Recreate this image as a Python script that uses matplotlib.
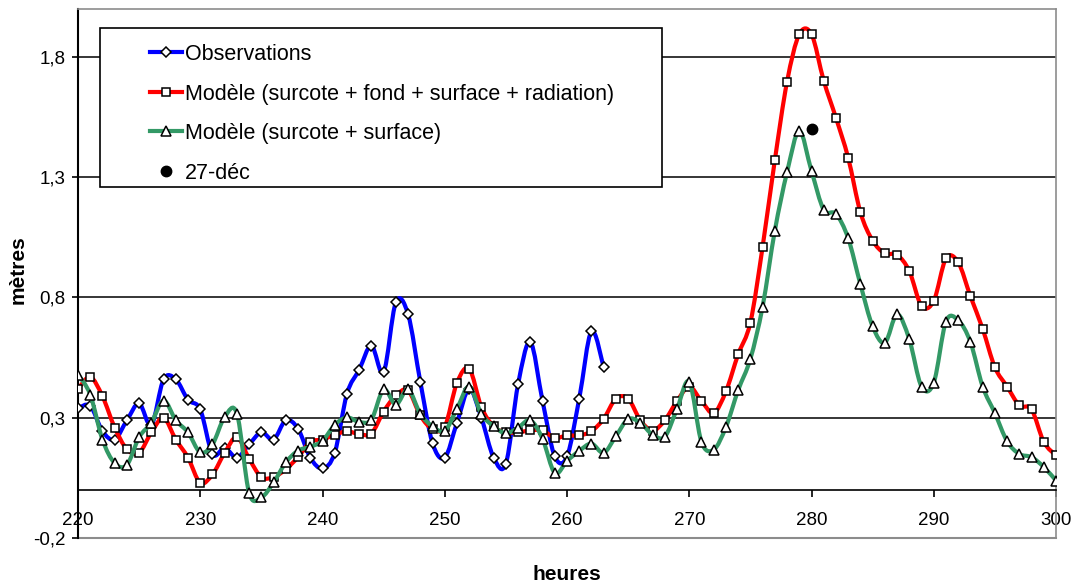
import matplotlib
matplotlib.use("Agg")
import matplotlib.pyplot as plt
import numpy as np
from matplotlib.path import Path
from matplotlib.patches import PathPatch, Rectangle
from matplotlib.lines import Line2D
from matplotlib.ticker import FuncFormatter

plt.rcParams['font.family'] = ['Liberation Sans', 'DejaVu Sans']

# hours
obs_hours = np.arange(220, 264)
model_hours = np.arange(220, 301)

# Observations (blue)
obs = [0.34, 0.35, 0.245, 0.21, 0.29, 0.36, 0.27, 0.46, 0.46, 0.375,
       0.335, 0.15, 0.175, 0.135, 0.19, 0.24, 0.21, 0.29, 0.255, 0.135,
       0.09, 0.155, 0.40, 0.50, 0.60, 0.49, 0.78, 0.73, 0.45, 0.195,
       0.135, 0.28, 0.42, 0.30, 0.135, 0.11, 0.44, 0.615, 0.37, 0.14,
       0.14, 0.38, 0.66, 0.51]

# Modele (surcote + fond + surface + radiation) (red)
model_full = [0.42, 0.47, 0.39, 0.26, 0.17, 0.155, 0.24, 0.30, 0.21, 0.135,
              0.03, 0.065, 0.155, 0.22, 0.13, 0.054, 0.054, 0.087, 0.137, 0.20,
              0.21, 0.23, 0.244, 0.233, 0.235, 0.326, 0.393, 0.414, 0.31, 0.254,
              0.263, 0.446, 0.504, 0.344, 0.265, 0.24, 0.24, 0.248, 0.248, 0.217,
              0.227, 0.227, 0.245, 0.296, 0.38, 0.38, 0.29, 0.247, 0.29, 0.37,
              0.43, 0.37, 0.32, 0.41, 0.564, 0.696, 1.01, 1.37, 1.696, 1.893,
              1.893, 1.70, 1.546, 1.38, 1.154, 1.036, 0.983, 0.977, 0.91, 0.765,
              0.786, 0.962, 0.946, 0.805, 0.67, 0.51, 0.43, 0.352, 0.335, 0.20,
              0.144]

# Modele (surcote + surface) (green)
model_surf = [0.48, 0.397, 0.21, 0.112, 0.105, 0.22, 0.28, 0.372, 0.29, 0.24,
              0.157, 0.19, 0.304, 0.318, -0.012, -0.03, 0.032, 0.115, 0.164, 0.18,
              0.205, 0.271, 0.302, 0.283, 0.293, 0.418, 0.355, 0.418, 0.317, 0.265,
              0.246, 0.338, 0.43, 0.316, 0.265, 0.236, 0.259, 0.29, 0.213, 0.071,
              0.121, 0.163, 0.193, 0.155, 0.224, 0.295, 0.28, 0.23, 0.222, 0.337,
              0.45, 0.20, 0.168, 0.262, 0.415, 0.545, 0.762, 1.077, 1.32, 1.492,
              1.325, 1.164, 1.147, 1.046, 0.855, 0.68, 0.612, 0.73, 0.626, 0.43,
              0.446, 0.70, 0.705, 0.615, 0.43, 0.32, 0.203, 0.15, 0.137, 0.096,
              0.04]

dec27_x = [280]
dec27_y = [1.50]

labels = ['Observations',
          'Modèle (surcote + fond + surface + radiation)',
          'Modèle (surcote + surface)',
          '27-déc']

BLUE = '#0000ff'
RED = '#ff0000'
GREEN = '#339966'


def smooth_path(x, y):
    # Excel-like smoothed line: cubic Bezier through each data point
    pts = np.column_stack([x, y]).astype(float)
    n = len(pts)
    verts = [pts[0]]
    codes = [Path.MOVETO]
    for i in range(n - 1):
        p0 = pts[i - 1] if i > 0 else pts[i]
        p1 = pts[i]
        p2 = pts[i + 1]
        p3 = pts[i + 2] if i + 2 < n else pts[i + 1]
        verts += [p1 + (p2 - p0) / 6, p2 - (p3 - p1) / 6, p2]
        codes += [Path.CURVE4] * 3
    return Path(verts, codes)


fig = plt.figure(figsize=(10.75, 5.87), dpi=100)
ax = fig.add_axes([78 / 1075, 1 - 538.3 / 587, 978 / 1075, 529.8 / 587])

series = [(obs_hours, obs, BLUE, 'D', 5.4),
          (model_hours, model_full, RED, 's', 5.8),
          (model_hours, model_surf, GREEN, '^', 6.6)]

z = 3
for hx, hy, col, mk, ms in series:
    ax.add_patch(PathPatch(smooth_path(hx, hy), facecolor='none', edgecolor=col,
                           lw=3.0, zorder=z, capstyle='round', joinstyle='round'))
    ax.plot(hx, hy, linestyle='none', marker=mk, markersize=ms, markerfacecolor='white',
            markeredgecolor='black', markeredgewidth=1.1, zorder=z + 0.1)
    z += 0.2

ax.plot(dec27_x, dec27_y, linestyle='none', marker='o', markersize=7.5,
        color='black', zorder=4)

ax.set_xlim(220, 300)
ax.set_ylim(-0.2, 2.0)
ax.set_xticks(np.arange(220, 301, 10))
ax.set_yticks([-0.2, 0.3, 0.8, 1.3, 1.8])
ax.yaxis.set_major_formatter(FuncFormatter(lambda v, p: f'{v:.1f}'.replace('.', ',')))

ax.set_axisbelow(True)
ax.yaxis.grid(True, color='black', lw=1.1)
ax.get_ygridlines()[0].set_visible(False)

ax.spines['bottom'].set_position(('data', 0))
ax.spines['bottom'].set_color('black')
ax.spines['bottom'].set_linewidth(1.2)
ax.spines['left'].set_color('black')
ax.spines['left'].set_linewidth(1.5)
for s in ['top', 'right']:
    ax.spines[s].set_color('#8c8c8c')
    ax.spines[s].set_linewidth(1.2)
ax.axhline(-0.2, color='#8c8c8c', lw=1.5, clip_on=False, zorder=1)

ax.tick_params(axis='x', direction='out', length=5, width=1.2, pad=11, labelsize=13.5)
ax.tick_params(axis='y', direction='out', length=4, width=1.2, pad=5, labelsize=13.5)

fig.text(567 / 1075, 1 - 575 / 587, 'heures', ha='center', va='center',
         fontsize=15, fontweight='bold')
fig.text(18 / 1075, 1 - 270 / 587, 'mètres', ha='center', va='center',
         rotation=90, fontsize=15, fontweight='bold')

# legend box
ax.add_patch(Rectangle((100 / 1075, 1 - 187 / 587), 562 / 1075, 159 / 587,
                       transform=fig.transFigure, facecolor='white', edgecolor='black',
                       lw=1.2, zorder=6, clip_on=False))
handles = [Line2D([], [], color=BLUE, lw=3, marker='D', markersize=5.4,
                  markerfacecolor='white', markeredgecolor='black', markeredgewidth=1.1),
           Line2D([], [], color=RED, lw=3, marker='s', markersize=5.8,
                  markerfacecolor='white', markeredgecolor='black', markeredgewidth=1.1),
           Line2D([], [], color=GREEN, lw=3, marker='^', markersize=6.6,
                  markerfacecolor='white', markeredgecolor='black', markeredgewidth=1.1),
           Line2D([], [], linestyle='none', marker='o', markersize=7.5, color='black')]
leg = ax.legend(handles, labels, loc='upper left',
                bbox_to_anchor=(150 / 1075, 1 - 44 / 587), bbox_transform=fig.transFigure,
                frameon=False, borderpad=0, borderaxespad=0, fontsize=15.5,
                handlelength=1.5, handletextpad=0.12, labelspacing=0.86)
leg.set_zorder(7)

fig.savefig('out.png', dpi=100)
